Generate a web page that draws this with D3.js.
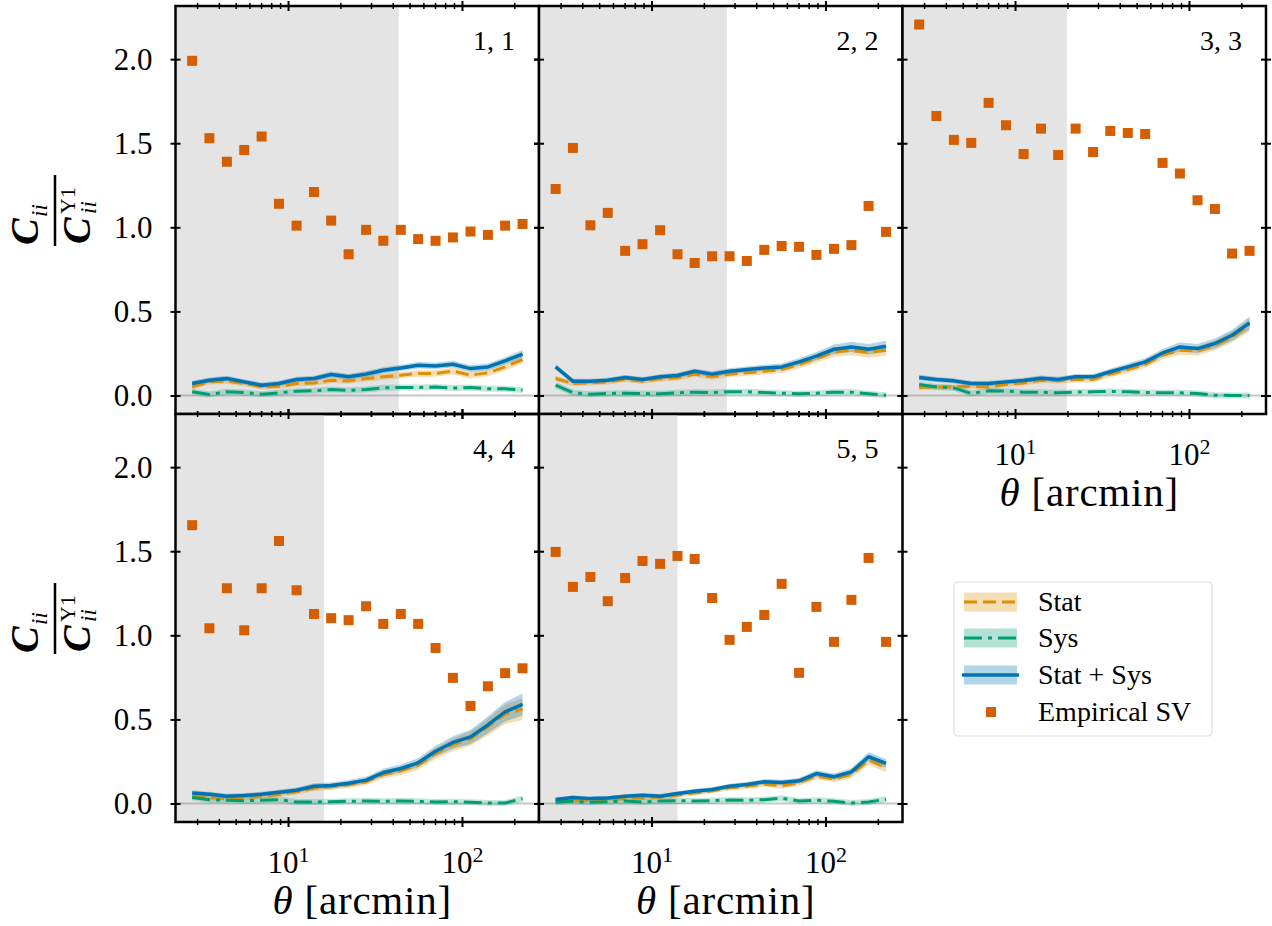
<!DOCTYPE html>
<meta charset="utf-8">
<head>
    <title>Covariance ratio per bin</title>
</head>
<style>
    body { margin: 0; background: #fff; }
    svg text { font-family: "Liberation Serif", "DejaVu Serif", serif; fill: #000; }
</style>

<div id="chart"></div>

<script src="https://d3js.org/d3.v7.min.js"></script>
<script>

    // angular bin centres (arcmin)
    var theta = [2.81, 3.53, 4.45, 5.60, 7.05, 8.87, 11.2, 14.1, 17.7, 22.3, 28.1, 35.3, 44.5, 56.0, 70.5, 88.7, 112, 141, 177, 223];

    var emp11  = [1.99, 1.53, 1.39, 1.46, 1.54, 1.14, 1.01, 1.21, 1.04, 0.84, 0.985, 0.92, 0.985, 0.93, 0.92, 0.94, 0.975, 0.955, 1.01, 1.02];
    var stat11 = [0.051, 0.081, 0.085, 0.071, 0.051, 0.055, 0.071, 0.075, 0.091, 0.087, 0.101, 0.111, 0.121, 0.131, 0.131, 0.145, 0.121, 0.135, 0.170, 0.214];
    var sys11  = [0.022, 0.006, 0.022, 0.018, 0.008, 0.016, 0.026, 0.028, 0.036, 0.030, 0.036, 0.046, 0.048, 0.048, 0.050, 0.044, 0.048, 0.040, 0.040, 0.032];
    var tot11  = [0.071, 0.091, 0.101, 0.081, 0.061, 0.071, 0.095, 0.101, 0.125, 0.111, 0.127, 0.150, 0.164, 0.180, 0.176, 0.186, 0.160, 0.170, 0.206, 0.246];
    var err11  = [0.016, 0.016, 0.016, 0.016, 0.016, 0.016, 0.016, 0.017, 0.017, 0.017, 0.018, 0.018, 0.019, 0.019, 0.019, 0.020, 0.020, 0.021, 0.022, 0.024];

    var emp22  = [1.228, 1.472, 1.012, 1.086, 0.860, 0.900, 0.983, 0.840, 0.788, 0.828, 0.828, 0.800, 0.866, 0.889, 0.884, 0.836, 0.872, 0.894, 1.127, 0.973];
    var stat22 = [0.101, 0.071, 0.075, 0.081, 0.095, 0.085, 0.099, 0.105, 0.127, 0.111, 0.127, 0.135, 0.144, 0.154, 0.184, 0.220, 0.259, 0.269, 0.256, 0.269];
    var sys22  = [0.061, 0.016, 0.008, 0.012, 0.014, 0.012, 0.010, 0.016, 0.020, 0.018, 0.022, 0.022, 0.018, 0.014, 0.010, 0.014, 0.020, 0.020, 0.010, 0.002];
    var tot22  = [0.170, 0.085, 0.085, 0.091, 0.107, 0.095, 0.111, 0.119, 0.144, 0.127, 0.144, 0.154, 0.164, 0.170, 0.200, 0.234, 0.275, 0.289, 0.275, 0.293];
    var err22  = [0.016, 0.015, 0.015, 0.015, 0.015, 0.015, 0.016, 0.016, 0.017, 0.017, 0.018, 0.018, 0.019, 0.020, 0.022, 0.025, 0.028, 0.030, 0.031, 0.033];

    var emp33  = [2.206, 1.662, 1.520, 1.502, 1.740, 1.607, 1.436, 1.587, 1.430, 1.587, 1.448, 1.573, 1.561, 1.555, 1.383, 1.320, 1.161, 1.109, 0.844, 0.860];
    var stat33 = [0.047, 0.051, 0.051, 0.055, 0.051, 0.065, 0.075, 0.091, 0.087, 0.095, 0.095, 0.127, 0.154, 0.184, 0.240, 0.269, 0.265, 0.299, 0.348, 0.418];
    var sys33  = [0.065, 0.051, 0.045, 0.012, 0.028, 0.026, 0.020, 0.020, 0.016, 0.020, 0.022, 0.024, 0.022, 0.018, 0.016, 0.016, 0.012, 0.002, 0.000, 0.000];
    var tot33  = [0.107, 0.095, 0.087, 0.071, 0.071, 0.081, 0.089, 0.103, 0.095, 0.111, 0.111, 0.141, 0.170, 0.200, 0.253, 0.289, 0.279, 0.309, 0.358, 0.432];
    var err33  = [0.016, 0.015, 0.015, 0.015, 0.015, 0.015, 0.016, 0.016, 0.016, 0.017, 0.017, 0.018, 0.020, 0.021, 0.024, 0.027, 0.027, 0.030, 0.033, 0.038];

    var emp44  = [1.655, 1.042, 1.280, 1.030, 1.280, 1.561, 1.268, 1.127, 1.102, 1.090, 1.173, 1.068, 1.127, 1.068, 0.925, 0.747, 0.580, 0.697, 0.775, 0.804];
    var stat44 = [0.043, 0.035, 0.029, 0.035, 0.043, 0.053, 0.069, 0.091, 0.099, 0.111, 0.129, 0.172, 0.194, 0.228, 0.297, 0.349, 0.386, 0.456, 0.531, 0.561];
    var sys44  = [0.035, 0.023, 0.019, 0.017, 0.019, 0.023, 0.009, 0.009, 0.011, 0.013, 0.015, 0.013, 0.015, 0.013, 0.009, 0.011, 0.007, 0.003, 0.003, 0.029];
    var tot44  = [0.063, 0.055, 0.043, 0.047, 0.055, 0.067, 0.079, 0.103, 0.107, 0.121, 0.139, 0.184, 0.208, 0.242, 0.311, 0.363, 0.396, 0.467, 0.545, 0.589];
    var err44  = [0.015, 0.015, 0.015, 0.015, 0.015, 0.015, 0.016, 0.017, 0.018, 0.019, 0.020, 0.022, 0.024, 0.027, 0.032, 0.037, 0.042, 0.050, 0.058, 0.065];

    var emp55  = [1.496, 1.288, 1.347, 1.203, 1.341, 1.442, 1.425, 1.472, 1.454, 1.222, 0.973, 1.050, 1.121, 1.306, 0.777, 1.169, 0.961, 1.211, 1.460, 0.961];
    var stat55 = [0.014, 0.016, 0.019, 0.023, 0.029, 0.033, 0.039, 0.049, 0.063, 0.075, 0.093, 0.103, 0.115, 0.105, 0.123, 0.163, 0.145, 0.172, 0.258, 0.212];
    var sys55  = [0.007, 0.013, 0.007, 0.011, 0.015, 0.009, 0.015, 0.017, 0.015, 0.017, 0.021, 0.019, 0.023, 0.031, 0.015, 0.019, 0.013, 0.003, 0.009, 0.025];
    var tot55  = [0.024, 0.035, 0.029, 0.033, 0.043, 0.049, 0.043, 0.059, 0.073, 0.083, 0.103, 0.113, 0.129, 0.125, 0.135, 0.178, 0.159, 0.188, 0.278, 0.238];
    var err55  = [0.012, 0.012, 0.012, 0.012, 0.012, 0.013, 0.013, 0.013, 0.014, 0.014, 0.015, 0.015, 0.016, 0.016, 0.017, 0.019, 0.019, 0.021, 0.027, 0.026];

    // small-scale cuts (arcmin), shaded grey
    var scaleCuts = [43.3, 27.1, 19.9, 16.1, 14.1];
    var panelLabels = ["1, 1", "2, 2", "3, 3", "4, 4", "5, 5"];
    var yTicks = [0, 0.5, 1, 1.5, 2];
    var xMajor = [10, 100];
    var xMinor = [3, 4, 5, 6, 7, 8, 9, 20, 30, 40, 50, 60, 70, 80, 90, 200];
    var legendNames = ["Stat", "Sys", "Stat + Sys", "Empirical SV"];

    var cStat = "#DE8F05", cSys = "#029E73", cTot = "#0173B2", cEmp = "#D55E00";

    var W = 1272, H = 926;
    var colLeft = [175.5, 539, 902.5], colW = 363.5;
    var rowTop = [6, 414], rowH = 408;
    var xDomain = [2.254, 277.3], yDomain = [-0.11, 2.316];

    var svg = d3.select("#chart").append("svg")
        .attr("width", W)
        .attr("height", H);

    var panels = [
        {row: 0, col: 0, emp: emp11, stat: stat11, sys: sys11, tot: tot11, err: err11, xlab: false},
        {row: 0, col: 1, emp: emp22, stat: stat22, sys: sys22, tot: tot22, err: err22, xlab: false},
        {row: 0, col: 2, emp: emp33, stat: stat33, sys: sys33, tot: tot33, err: err33, xlab: true},
        {row: 1, col: 0, emp: emp44, stat: stat44, sys: sys44, tot: tot44, err: err44, xlab: true},
        {row: 1, col: 1, emp: emp55, stat: stat55, sys: sys55, tot: tot55, err: err55, xlab: true}
    ];

    function styleTicks(sel, w) {
        sel.select(".domain").remove();
        sel.selectAll(".tick line").attr("stroke", "#000").attr("stroke-width", w);
        sel.attr("font-family", null).attr("font-size", 31);
    }

    function drawPanel(p, k) {
        var x0 = colLeft[p.col], x1 = x0 + colW;
        var yTop = rowTop[p.row], yBot = yTop + rowH;
        var x = d3.scaleLog().domain(xDomain).range([x0, x1]);
        var y = d3.scaleLinear().domain(yDomain).range([yBot, yTop]);
        var g = svg.append("g");

        var rows = theta.map(function(t, i) {
            return {t: t, emp: p.emp[i], stat: p.stat[i], sys: p.sys[i], tot: p.tot[i], err: p.err[i]};
        });

        // excluded scales
        g.append("rect")
            .attr("x", x0).attr("y", yTop)
            .attr("width", x(scaleCuts[k]) - x0)
            .attr("height", rowH)
            .attr("fill", "#e4e4e4");

        g.append("line")
            .attr("x1", x0).attr("x2", x1)
            .attr("y1", y(0)).attr("y2", y(0))
            .attr("stroke", "gray").attr("stroke-opacity", 0.45).attr("stroke-width", 2);

        function band(key) {
            return d3.area()
                .x(function(d) { return x(d.t); })
                .y0(function(d) { return y(d[key] - d.err); })
                .y1(function(d) { return y(d[key] + d.err); });
        }
        function line(key) {
            return d3.line()
                .x(function(d) { return x(d.t); })
                .y(function(d) { return y(d[key]); });
        }

        g.append("path").datum(rows).attr("d", band("stat")).attr("fill", cStat).attr("fill-opacity", 0.3);
        g.append("path").datum(rows).attr("d", band("tot")).attr("fill", cTot).attr("fill-opacity", 0.3);
        g.append("path").datum(rows).attr("d", line("sys"))
            .attr("fill", "none").attr("stroke", cSys).attr("stroke-opacity", 0.25).attr("stroke-width", 6);

        g.append("path").datum(rows).attr("d", line("stat"))
            .attr("fill", "none").attr("stroke", cStat).attr("stroke-width", 3)
            .attr("stroke-dasharray", "13,6");
        g.append("path").datum(rows).attr("d", line("sys"))
            .attr("fill", "none").attr("stroke", cSys).attr("stroke-width", 3)
            .attr("stroke-dasharray", "18,6,4,6");
        g.append("path").datum(rows).attr("d", line("tot"))
            .attr("fill", "none").attr("stroke", cTot).attr("stroke-width", 3.5)
            .attr("stroke-linejoin", "round");

        g.selectAll(".emp")
            .data(rows)
            .enter().append("rect")
            .attr("class", "emp")
            .attr("x", function(d) { return x(d.t) - 5; })
            .attr("y", function(d) { return y(d.emp) - 5; })
            .attr("width", 10).attr("height", 10)
            .attr("fill", cEmp);

        // ticks on every side, crossing the frame
        var left = g.append("g").attr("transform", "translate(" + (x0 + 5) + ",0)")
            .call(d3.axisLeft(y).tickValues(yTicks).tickSize(10).tickPadding(18)
                .tickFormat(p.col == 0 ? d3.format(".1f") : ""));
        styleTicks(left, 2);
        var right = g.append("g").attr("transform", "translate(" + (x1 - 5) + ",0)")
            .call(d3.axisRight(y).tickValues(yTicks).tickSize(10).tickFormat(""));
        styleTicks(right, 2);
        var top = g.append("g").attr("transform", "translate(0," + (yTop + 5) + ")")
            .call(d3.axisTop(x).tickValues(xMajor).tickSize(10).tickFormat(""));
        styleTicks(top, 2);
        var topMin = g.append("g").attr("transform", "translate(0," + (yTop + 3) + ")")
            .call(d3.axisTop(x).tickValues(xMinor).tickSize(6).tickFormat(""));
        styleTicks(topMin, 1.5);
        var bot = g.append("g").attr("transform", "translate(0," + (yBot - 5) + ")")
            .call(d3.axisBottom(x).tickValues(xMajor).tickSize(10).tickPadding(24).tickFormat(function(d) { return p.xlab ? "x" : ""; }));
        styleTicks(bot, 2);
        var botMin = g.append("g").attr("transform", "translate(0," + (yBot - 3) + ")")
            .call(d3.axisBottom(x).tickValues(xMinor).tickSize(6).tickFormat(""));
        styleTicks(botMin, 1.5);

        if (p.xlab) {
            bot.selectAll(".tick text").each(function(d) {
                var t = d3.select(this);
                t.text("");
                t.append("tspan").text("10");
                t.append("tspan").attr("font-size", 22).attr("dy", "-0.5em").text(Math.round(Math.log10(d)));
            });
            var xl = g.append("text")
                .attr("x", (x0 + x1) / 2 + 5)
                .attr("y", yBot + 92)
                .attr("text-anchor", "middle")
                .attr("font-size", 41)
                .attr("letter-spacing", 0.8);
            xl.append("tspan").attr("font-style", "italic").text("θ");
            xl.append("tspan").text(" [arcmin]");
        }

        g.append("text")
            .attr("x", x1 - 24)
            .attr("y", yTop + 44)
            .attr("text-anchor", "end")
            .attr("font-size", 28)
            .text(panelLabels[k]);

        g.append("rect")
            .attr("x", x0).attr("y", yTop)
            .attr("width", colW).attr("height", rowH)
            .attr("fill", "none").attr("stroke", "#000").attr("stroke-width", 2.5);
    }

    panels.forEach(drawPanel);

    // y label: C_ii / C_ii^Y1
    function yLabel(cy) {
        var g = svg.append("g").attr("transform", "translate(55," + cy + ") rotate(-90)");
        g.append("line").attr("x1", -36).attr("x2", 35).attr("y1", 0).attr("y2", 0)
            .attr("stroke", "#000").attr("stroke-width", 2.5);
        g.append("text").attr("x", -35).attr("y", -17).attr("font-size", 40)
            .attr("font-weight", "bold").attr("font-style", "italic").text("C");
        g.append("text").attr("x", -7).attr("y", -8).attr("font-size", 23)
            .attr("font-style", "italic").text("ii");
        g.append("text").attr("x", -34).attr("y", 35).attr("font-size", 40)
            .attr("font-weight", "bold").attr("font-style", "italic").text("C");
        g.append("text").attr("x", -4).attr("y", 20).attr("font-size", 22).text("Y1");
        g.append("text").attr("x", -4).attr("y", 41).attr("font-size", 23)
            .attr("font-style", "italic").text("ii");
    }
    yLabel(210);
    yLabel(618);

    // legend
    var leg = svg.append("g");
    leg.append("rect")
        .attr("x", 954).attr("y", 582).attr("width", 258).attr("height", 154)
        .attr("rx", 4).attr("fill", "#fff").attr("stroke", "#dcdcdc").attr("stroke-width", 1.2);
    var legY = [602, 638, 675, 712];
    var legCol = [cStat, cSys, cTot, cEmp];
    legendNames.forEach(function(name, i) {
        var yy = legY[i];
        if (i < 3) {
            leg.append("rect").attr("x", 964).attr("y", yy - 9.5).attr("width", 53).attr("height", 19)
                .attr("fill", legCol[i]).attr("fill-opacity", 0.3);
            var ln = leg.append("line").attr("y1", yy).attr("y2", yy)
                .attr("stroke", legCol[i]).attr("stroke-width", i == 2 ? 3.5 : 3);
            if (i == 0) ln.attr("x1", 964).attr("x2", 1017).attr("stroke-dasharray", "13,6");
            if (i == 1) ln.attr("x1", 964).attr("x2", 1017).attr("stroke-dasharray", "18,6,4,6");
            if (i == 2) ln.attr("x1", 962).attr("x2", 1019);
        } else {
            leg.append("rect").attr("x", 986).attr("y", yy - 5).attr("width", 10).attr("height", 10)
                .attr("fill", cEmp);
        }
        leg.append("text").attr("x", 1038).attr("y", yy + 9).attr("font-size", 28).text(name);
    });

</script>
